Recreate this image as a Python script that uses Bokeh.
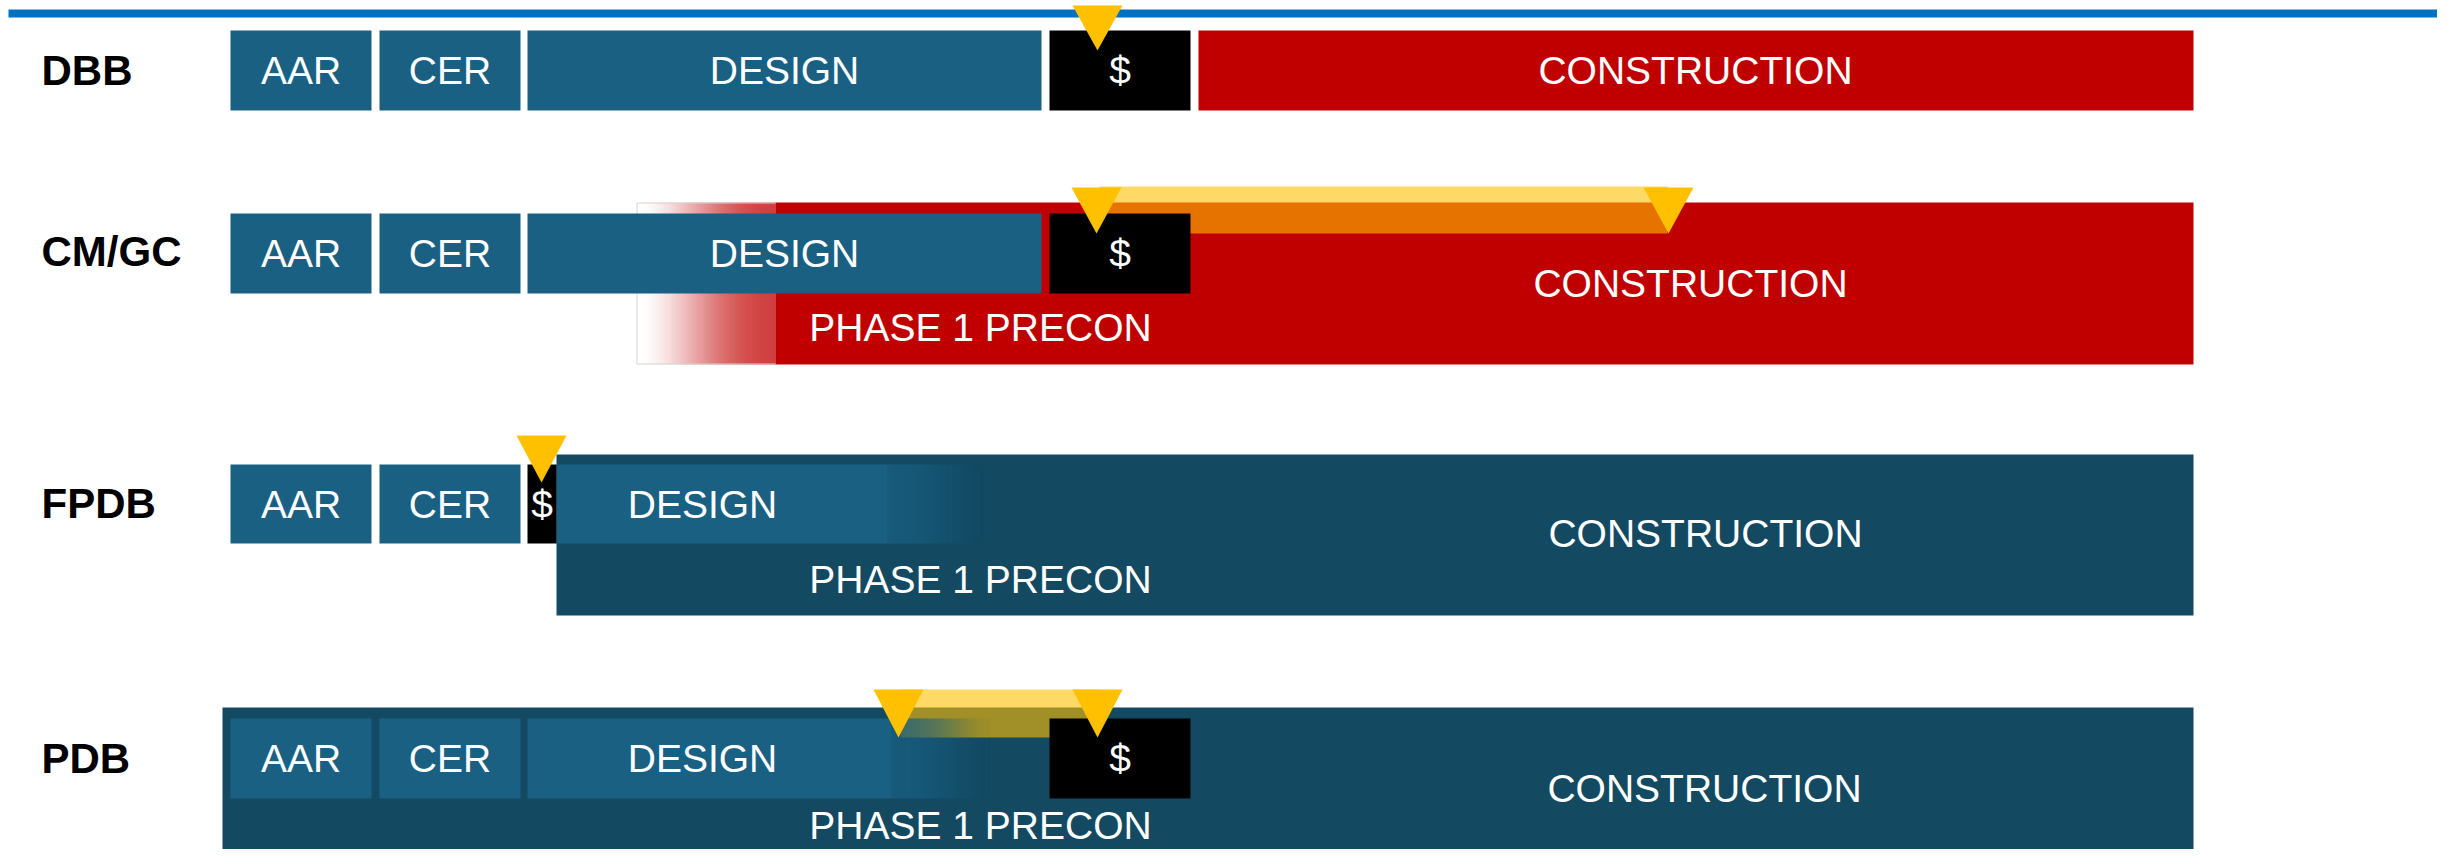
from bokeh.plotting import figure
from bokeh.models import Range1d
from bokeh.core.properties import value
from bokeh.embed import file_html
from bokeh.resources import INLINE

# ---------------- data (schedule positions on a common time scale) ----------------
methods = ["DBB", "CM/GC", "FPDB", "PDB"]
label_y = [70, 251, 503, 758]
box_top = [30, 213, 464, 718]
box_bottom = [110, 293, 543, 798]

aar_start = [230, 230, 230, 230]
aar_end = [371, 371, 371, 371]
cer_start = [379, 379, 379, 379]
cer_end = [520, 520, 520, 520]
design_start = [527, 527, 556, 527]
design_solid_end = [1041, 1041, 887, 891]
design_end = [1041, 1041, 987, 995]
design_text_x = [784, 784, 702, 702]
dollar_start = [1049, 1049, 527, 1049]
dollar_end = [1190, 1190, 556, 1190]

cons_start = [1198, 636, 556, 222]
cons_solid_start = [1198, 775, 556, 222]
cons_end = [2193, 2193, 2193, 2193]
cons_top = [30, 202, 454, 707]
cons_bottom = [110, 364, 615, 880]
cons_color = ["#C00000", "#C00000", "#134A62", "#134A62"]
cons_text_x = [1695, 1690, 1705, 1704]
cons_text_y = [70, 283, 533, 788]

precon_x = [980, 980, 980]
precon_y = [327, 579, 825]

# price-setting milestones (triangles)
ms_x = [1097, 1096, 1668, 541, 898, 1097]
ms_top = [5, 187, 187, 435, 689, 689]
ms_tip = [50, 233, 233, 482, 737, 737]

# negotiation bands between milestones
band_start = [1099, 900]
band_end = [1667, 1099]
band_top = [186, 689]
band_bottom = [233, 737]

# ---------------- styling ----------------
TEAL = "#1A6083"
GOLD = "#FFC000"
FONT = value("Liberation Sans")


def ease(t):
    return t * t * (3 - 2 * t)


W, H = 2437, 849
p = figure(width=W, height=H, x_range=Range1d(0, W), y_range=Range1d(H, 0),
           output_backend="svg", toolbar_location=None, min_border=0,
           x_axis_location=None, y_axis_location=None,
           background_fill_color="white", border_fill_color="white",
           outline_line_color=None)
p.grid.visible = False

# top rule
p.quad(left=[8], right=[2453], top=[9], bottom=[17], fill_color="#0070C0", line_color=None)

for r in range(4):
    p.quad(left=[cons_solid_start[r]], right=[cons_end[r]], top=[cons_top[r]], bottom=[cons_bottom[r]],
           fill_color=cons_color[r], line_color=None)
    n = cons_solid_start[r] - cons_start[r]
    if n > 0:
        xs = [cons_start[r] + i for i in range(n)]
        p.quad(left=xs, right=[x + 1 for x in xs], top=cons_top[r], bottom=cons_bottom[r],
               fill_color=cons_color[r], fill_alpha=[ease((i + 0.5) / n) for i in range(n)], line_color=None)
        p.line([cons_solid_start[r], cons_start[r] + 0.5, cons_start[r] + 0.5, cons_solid_start[r]],
               [cons_top[r] + 0.5, cons_top[r] + 0.5, cons_bottom[r] - 0.5, cons_bottom[r] - 0.5],
               line_color="#d4d4d4", line_width=1)

for b in range(len(band_start)):
    p.quad(left=[band_start[b]], right=[band_end[b]], top=[band_top[b]], bottom=[band_bottom[b]],
           fill_color=GOLD, fill_alpha=0.6, line_color=None)

for r in range(4):
    t, btm = box_top[r], box_bottom[r]
    p.quad(left=[aar_start[r], cer_start[r]], right=[aar_end[r], cer_end[r]], top=t, bottom=btm,
           fill_color=TEAL, line_color=None)
    p.quad(left=[design_start[r]], right=[design_solid_end[r]], top=t, bottom=btm,
           fill_color=TEAL, line_color=None)
    n = design_end[r] - design_solid_end[r]
    if n > 0:
        xs = [design_solid_end[r] + i for i in range(n)]
        p.quad(left=xs, right=[x + 1 for x in xs], top=t, bottom=btm,
               fill_color=TEAL, fill_alpha=[1 - ease((i + 0.5) / n) for i in range(n)], line_color=None)
    p.quad(left=[dollar_start[r]], right=[dollar_end[r]], top=t, bottom=btm,
           fill_color="black", line_color=None)

    cy = (t + btm) / 2
    p.text(x=[(aar_start[r] + aar_end[r]) / 2, (cer_start[r] + cer_end[r]) / 2, design_text_x[r],
              (dollar_start[r] + dollar_end[r]) / 2],
           y=[cy] * 4, text=["AAR", "CER", "DESIGN", "$"],
           text_color="white", text_font=FONT, text_font_size="39px",
           text_align="center", text_baseline="middle")
    p.text(x=[cons_text_x[r]], y=[cons_text_y[r]], text=["CONSTRUCTION"],
           text_color="white", text_font=FONT, text_font_size="39px",
           text_align="center", text_baseline="middle")

p.text(x=precon_x, y=precon_y, text=["PHASE 1 PRECON"] * 3,
       text_color="white", text_font=FONT, text_font_size="39px",
       text_align="center", text_baseline="middle")

p.text(x=[41] * 4, y=label_y, text=methods, text_color="black", text_font=FONT,
       text_font_style="bold", text_font_size="42px", text_align="left", text_baseline="middle")

p.patches(xs=[[x - 25, x + 25, x] for x in ms_x],
          ys=[[ms_top[i], ms_top[i], ms_tip[i]] for i in range(len(ms_x))],
          fill_color=GOLD, line_color=None)

open("out.html", "w").write(file_html(p, INLINE))
